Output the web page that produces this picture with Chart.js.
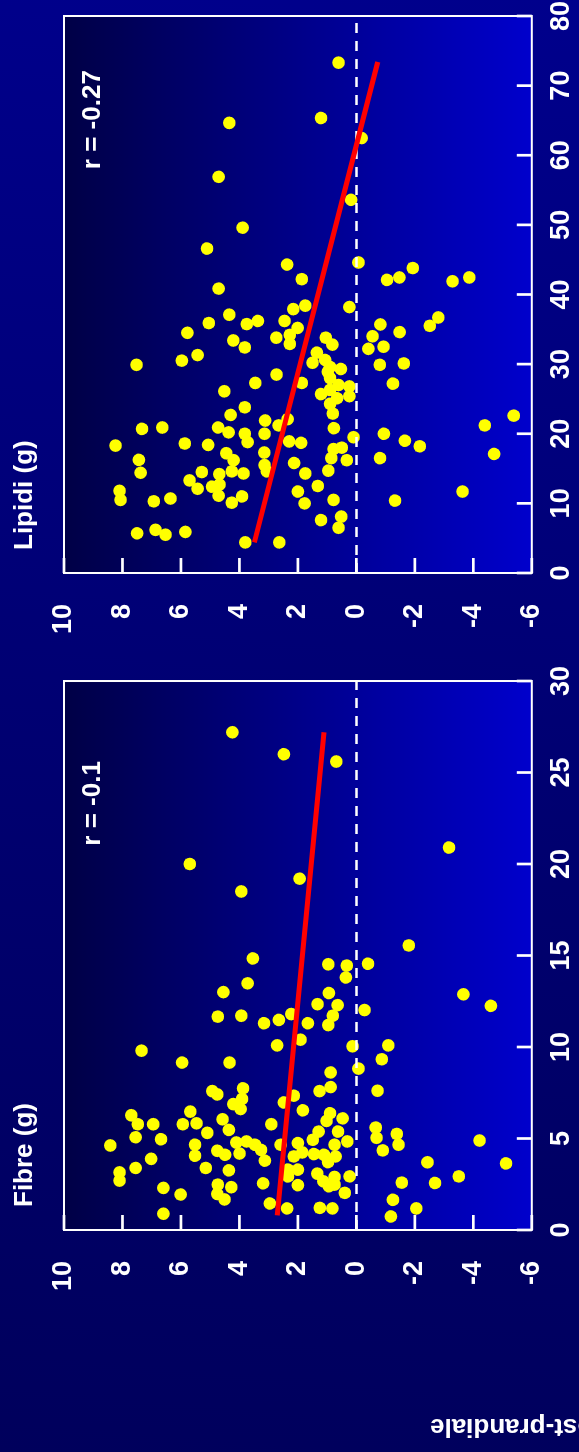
<!DOCTYPE html>
<html>
<head>
<meta charset="utf-8">
<script src="https://cdn.jsdelivr.net/npm/chart.js@4/dist/chart.umd.min.js"></script>
<style>
html,body{margin:0;padding:0;width:579px;height:1452px;overflow:hidden;background:#000070;}
#wrap{position:absolute;left:0;top:0;width:1452px;height:579px;transform-origin:0 0;
  transform:translateY(1452px) rotate(-90deg);
  background:linear-gradient(95deg,#00005c 0%,#000072 50%,#00008c 100%);overflow:hidden;}
#c1{position:absolute;left:0;top:0;}
#c2{position:absolute;left:800px;top:0;}
</style>
</head>
<body>
<div id="wrap">
  <canvas id="c1" width="800" height="579"></canvas>
  <canvas id="c2" width="680" height="579"></canvas>
</div>
<script>
// ---------- DATA ----------
const panelTitles = ['Fibre (g)', 'Lipidi (g)'];
const rLabels = ['r = -0.1', 'r = -0.27'];
const rLabelPos = [[21, 9], [58, 9]];
const yTitle = 'Glicemia post-prandiale';

const fibreTicks = [0, 5, 10, 15, 20, 25, 30];
const lipidTicks = [0, 10, 20, 30, 40, 50, 60, 70, 80];
const glyTicks = [-6, -4, -2, 0, 2, 4, 6, 8, 10];

const fibreX = [27.2,26.0,25.6,20.9,20.0,19.2,18.5,15.55,14.84,14.52,14.45,14.55,13.8,13.48,13.0,12.95,12.88,12.34,12.29,12.25,
 12.02,11.66,11.71,11.71,11.3,11.48,11.8,11.3,11.2,9.80,10.09,10.4,10.04,10.09,9.15,9.15,9.33,8.82,8.61,7.61,
 7.81,7.59,7.59,7.41,7.74,7.16,6.88,6.61,7.34,6.97,6.54,6.27,5.78,6.47,5.78,5.78,5.83,6.05,5.47,5.31,
 5.78,6.38,5.96,6.1,5.38,5.38,4.93,4.84,4.62,5.07,4.96,4.66,4.06,4.78,4.84,4.66,4.38,4.33,4.11,4.18,
 3.79,4.66,4.75,4.02,4.24,4.15,4.11,4.66,4.02,3.71,5.6,5.04,5.25,4.66,4.35,4.89,3.89,3.15,2.70,3.39,
 3.39,3.26,3.30,2.93,3.30,3.08,2.90,2.66,2.39,2.48,2.93,3.70,3.64,2.93,2.59,2.57,2.30,1.94,2.48,1.97,
 2.34,1.67,2.55,2.45,2.03,1.45,1.18,1.21,1.18,1.65,1.18,0.89,0.74];
const fibreY = [4.24,2.48,0.69,-3.17,5.70,1.94,3.94,-1.79,3.54,0.96,0.33,-0.40,0.36,3.72,4.55,0.94,-3.66,1.33,0.64,-4.60,
 -0.28,4.74,3.94,0.81,3.16,2.65,2.23,1.66,0.96,7.35,2.71,1.91,0.13,-1.09,5.96,4.34,-0.87,-0.07,0.88,-0.72,
 0.88,1.26,4.93,4.76,3.88,3.91,4.21,3.96,2.14,2.48,1.83,7.70,7.48,5.68,6.95,5.94,5.47,4.58,4.36,5.10,
 2.91,0.90,1.02,0.47,1.29,0.63,1.49,0.31,8.42,7.55,6.68,5.52,5.52,4.11,3.76,3.47,3.26,4.76,4.49,4.0,
 3.13,2.59,2.0,2.14,1.85,1.45,1.11,0.75,0.71,0.97,-0.66,-0.69,-1.38,-1.44,-0.90,-4.21,7.02,8.10,8.10,7.55,
 5.15,4.36,2.34,2.34,2.0,1.34,0.75,1.13,0.94,0.75,0.23,-2.43,-5.12,-3.5,-1.55,-2.69,6.60,6.01,4.74,4.76,
 4.28,4.51,3.19,2.0,0.40,2.96,2.37,1.25,0.82,-1.25,-2.05,6.60,-1.18];

const lipidX = [73.3,64.65,65.35,62.47,56.9,53.6,49.6,46.6,44.3,44.6,43.8,42.2,42.1,42.45,41.9,42.45,40.85,38.2,37.9,38.4,
 37.1,35.9,35.75,36.2,36.2,35.7,36.7,35.5,34.5,35.2,34.2,33.8,33.4,33.8,32.8,32.9,34.6,34.0,32.4,32.5,
 32.2,31.3,30.5,29.9,31.65,30.2,30.6,29.6,29.3,29.9,30.1,28.5,27.3,27.3,28.0,27.0,26.8,27.2,26.1,25.7,
 26.3,25.4,25.1,24.3,22.9,23.8,22.7,21.9,22.1,21.2,20.8,20.9,20.2,20.0,20.0,18.8,20.7,20.9,18.3,18.6,
 18.4,18.9,18.7,19.5,20.0,19.0,18.2,21.2,22.6,17.1,17.8,18.0,16.5,16.2,16.5,17.2,16.2,17.3,15.5,14.6,
 15.8,14.3,14.7,16.25,14.4,14.5,14.2,14.6,14.3,13.3,12.1,12.4,12.7,11.1,11.8,10.5,10.3,10.7,10.1,11.0,
 11.7,10.0,12.5,10.5,10.4,11.7,7.6,8.1,6.5,5.7,6.2,5.5,5.9,4.4,4.4,28.9];
const lipidY = [0.61,4.35,1.21,-0.18,4.71,0.18,3.89,5.11,2.37,-0.07,-1.93,1.87,-1.05,-1.47,-3.29,-3.86,4.71,0.24,2.16,1.75,
 4.35,5.05,3.75,3.37,2.46,-0.82,-2.80,-2.51,5.78,2.01,2.28,2.74,4.21,1.05,0.82,2.28,-1.48,-0.55,3.82,-0.93,
 -0.41,5.43,5.97,7.52,1.35,1.50,1.07,0.90,0.53,-0.80,-1.62,2.73,3.46,1.87,0.90,0.61,0.24,-1.25,4.52,1.21,
 0.90,0.24,0.66,0.90,0.81,3.82,4.30,3.12,2.35,2.66,0.77,4.73,4.37,3.82,3.14,3.72,7.33,6.64,8.24,5.87,
 5.07,2.30,1.89,0.10,-0.94,-1.66,-2.17,-4.39,-5.38,-4.71,0.78,0.50,0.86,0.33,-0.81,4.45,4.20,3.15,3.14,3.06,
 2.13,1.75,0.96,7.44,7.38,5.29,4.69,4.26,3.86,5.71,5.43,4.94,4.68,4.71,8.10,8.07,6.93,6.36,4.26,3.91,
 2.00,1.77,1.32,0.78,-1.32,-3.63,1.21,0.52,0.61,7.50,6.87,6.53,5.85,3.80,2.64,0.98];

const fibreFitX = [0.8, 27.2];
const fibreFitY = [2.71, 1.11];
const lipidFitX = [4.4, 73.4];
const lipidFitY = [3.49, -0.73];

// ---------- DRAWING ----------
const FONT = "'Liberation Sans', Arial, Helvetica, sans-serif";
const pts = (xs, ys) => xs.map((v, i) => ({x: v, y: ys[i]}));

function panelPlugin(idx, showYTitle) {
  return {
    id: 'panel' + idx,
    beforeDraw(chart) {
      const {ctx, chartArea: a} = chart;
      const g = ctx.createLinearGradient(0, a.top, 0, a.bottom);
      g.addColorStop(0, '#000046');
      g.addColorStop(1, '#0000cc');
      ctx.save();
      ctx.fillStyle = g;
      ctx.fillRect(a.left, a.top, a.right - a.left, a.bottom - a.top);
      ctx.restore();
    },
    afterDraw(chart) {
      const {ctx, chartArea: a} = chart;
      const x = chart.scales.x, y = chart.scales.y;
      ctx.save();
      ctx.strokeStyle = '#ffffff';
      ctx.lineWidth = 2.7;
      x.ticks.forEach(t => {
        const p = x.getPixelForValue(t.value);
        ctx.beginPath(); ctx.moveTo(p, a.bottom); ctx.lineTo(p, a.bottom - 15); ctx.stroke();
      });
      y.ticks.forEach(t => {
        const p = y.getPixelForValue(t.value);
        ctx.beginPath(); ctx.moveTo(a.left, p); ctx.lineTo(a.left + 15, p); ctx.stroke();
      });
      ctx.lineWidth = 2;
      ctx.strokeRect(a.left, a.top, a.right - a.left, a.bottom - a.top);

      ctx.fillStyle = '#ffffff';
      ctx.font = 'bold 26px ' + FONT;
      ctx.textAlign = 'left';
      ctx.textBaseline = 'alphabetic';
      ctx.fillText(panelTitles[idx], a.left + 23, 32);

      ctx.textBaseline = 'middle';
      ctx.fillText(rLabels[idx], x.getPixelForValue(rLabelPos[idx][0]), y.getPixelForValue(rLabelPos[idx][1]));

      if (showYTitle) {
        ctx.translate(33, 430);
        ctx.rotate(-Math.PI / 2);
        ctx.textAlign = 'right';
        ctx.textBaseline = 'alphabetic';
        ctx.fillText(yTitle, 0, 0);
      }
      ctx.restore();
    }
  };
}

function makeChart(canvasId, idx, xs, ys, fitX, fitY, xTicks, pad) {
  const tickFont = {family: FONT, size: 27, weight: 'bold'};
  return new Chart(document.getElementById(canvasId), {
    type: 'scatter',
    data: {
      datasets: [
        {data: pts(fitX, fitY), showLine: true, borderColor: '#ff0000', borderWidth: 5,
         pointRadius: 0, fill: false},
        {data: [{x: xTicks[0], y: 0}, {x: xTicks[xTicks.length - 1], y: 0}], showLine: true,
         borderColor: '#ffffff', borderWidth: 2.5, borderDash: [10, 8], pointRadius: 0, fill: false},
        {data: pts(xs, ys), backgroundColor: '#ffff00', borderWidth: 0, pointRadius: 6.3}
      ]
    },
    options: {
      responsive: false,
      animation: false,
      devicePixelRatio: 1,
      layout: {padding: pad},
      plugins: {legend: {display: false}, tooltip: {enabled: false}},
      scales: {
        x: {
          type: 'linear', position: 'bottom',
          min: xTicks[0], max: xTicks[xTicks.length - 1],
          grid: {display: false, drawTicks: false, tickLength: 0},
          border: {display: false},
          afterBuildTicks: s => { s.ticks = xTicks.map(v => ({value: v})); },
          afterFit: s => { s.height = 42; },
          ticks: {color: '#ffffff', font: tickFont, padding: 14, maxRotation: 0, autoSkip: false,
                  callback: v => String(v)}
        },
        y: {
          type: 'linear', position: 'left',
          min: glyTicks[0], max: glyTicks[glyTicks.length - 1],
          grid: {display: false, drawTicks: false, tickLength: 0},
          border: {display: false},
          afterBuildTicks: s => { s.ticks = glyTicks.map(v => ({value: v})); },
          afterFit: s => { s.width = 70; },
          ticks: {color: '#ffffff', font: tickFont, padding: 31, autoSkip: false,
                  callback: v => String(v)}
        }
      }
    },
    plugins: [panelPlugin(idx, idx === 0)]
  });
}

makeChart('c1', 0, fibreX, fibreY, fibreFitX, fibreFitY, fibreTicks, {left: 152, right: 22, top: 64, bottom: 0});
makeChart('c2', 1, lipidX, lipidY, lipidFitX, lipidFitY, lipidTicks, {left: 9, right: 44, top: 64, bottom: 0});
</script>
</body>
</html>
